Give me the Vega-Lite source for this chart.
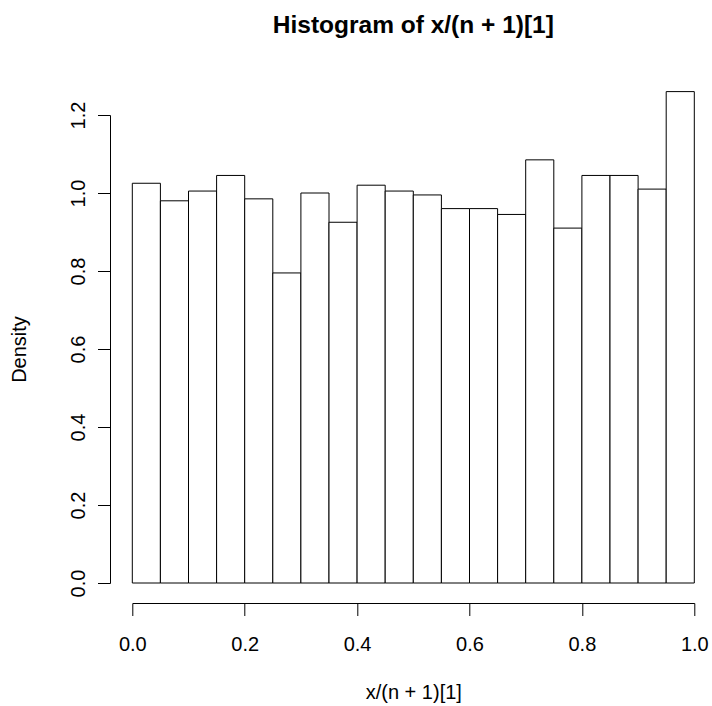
{
  "$schema": "https://vega.github.io/schema/vega-lite/v6.json",
  "autosize": {"type": "none"},
  "padding": {"left": 132.3, "top": 115, "right": 17.7, "bottom": 123},
  "width": 562,
  "height": 468,
  "background": "white",
  "config": {
    "view": {"stroke": null},
    "font": "Liberation Sans",
    "axis": {
      "grid": false,
      "domainColor": "black",
      "tickColor": "black",
      "labelColor": "black",
      "titleColor": "black",
      "labelFont": "Liberation Sans",
      "titleFont": "Liberation Sans",
      "labelFontSize": 20,
      "titleFontSize": 20,
      "titleFontWeight": "normal",
      "tickSize": 12.5,
      "domainWidth": 1,
      "tickWidth": 1
    }
  },
  "title": {
    "text": "Histogram of x/(n + 1)[1]",
    "font": "Liberation Sans",
    "fontSize": 24.5,
    "fontWeight": "bold",
    "color": "black",
    "anchor": "middle",
    "frame": "group",
    "offset": 53
  },
  "data": {
    "values": [
      {"bin_start": 0.00, "bin_end": 0.05, "density": 1.025},
      {"bin_start": 0.05, "bin_end": 0.10, "density": 0.98},
      {"bin_start": 0.10, "bin_end": 0.15, "density": 1.005},
      {"bin_start": 0.15, "bin_end": 0.20, "density": 1.045},
      {"bin_start": 0.20, "bin_end": 0.25, "density": 0.985},
      {"bin_start": 0.25, "bin_end": 0.30, "density": 0.795},
      {"bin_start": 0.30, "bin_end": 0.35, "density": 1.0},
      {"bin_start": 0.35, "bin_end": 0.40, "density": 0.925},
      {"bin_start": 0.40, "bin_end": 0.45, "density": 1.02},
      {"bin_start": 0.45, "bin_end": 0.50, "density": 1.005},
      {"bin_start": 0.50, "bin_end": 0.55, "density": 0.995},
      {"bin_start": 0.55, "bin_end": 0.60, "density": 0.96},
      {"bin_start": 0.60, "bin_end": 0.65, "density": 0.96},
      {"bin_start": 0.65, "bin_end": 0.70, "density": 0.945},
      {"bin_start": 0.70, "bin_end": 0.75, "density": 1.085},
      {"bin_start": 0.75, "bin_end": 0.80, "density": 0.91},
      {"bin_start": 0.80, "bin_end": 0.85, "density": 1.045},
      {"bin_start": 0.85, "bin_end": 0.90, "density": 1.045},
      {"bin_start": 0.90, "bin_end": 0.95, "density": 1.01},
      {"bin_start": 0.95, "bin_end": 1.00, "density": 1.26}
    ]
  },
  "mark": {"type": "rect", "fill": "white", "stroke": "black", "strokeWidth": 1, "clip": false},
  "encoding": {
    "x": {
      "field": "bin_start",
      "type": "quantitative",
      "scale": {"domain": [0, 1], "nice": false, "zero": false},
      "axis": {
        "title": "x/(n + 1)[1]",
        "values": [0, 0.2, 0.4, 0.6, 0.8, 1.0],
        "format": ".1f",
        "offset": 20,
        "labelPadding": 19,
        "titlePadding": 28,
        "labelFlush": false
      }
    },
    "x2": {"field": "bin_end"},
    "y": {
      "field": "density",
      "type": "quantitative",
      "scale": {"domain": [0, 1.2], "nice": false, "zero": true},
      "axis": {
        "title": "Density",
        "values": [0, 0.2, 0.4, 0.6, 0.8, 1.0, 1.2],
        "format": ".1f",
        "offset": 22.3,
        "labelAngle": -90,
        "labelAlign": "center",
        "labelBaseline": "bottom",
        "labelPadding": 9,
        "titlePadding": 39,
        "labelFlush": false
      }
    },
    "y2": {"datum": 0}
  }
}
